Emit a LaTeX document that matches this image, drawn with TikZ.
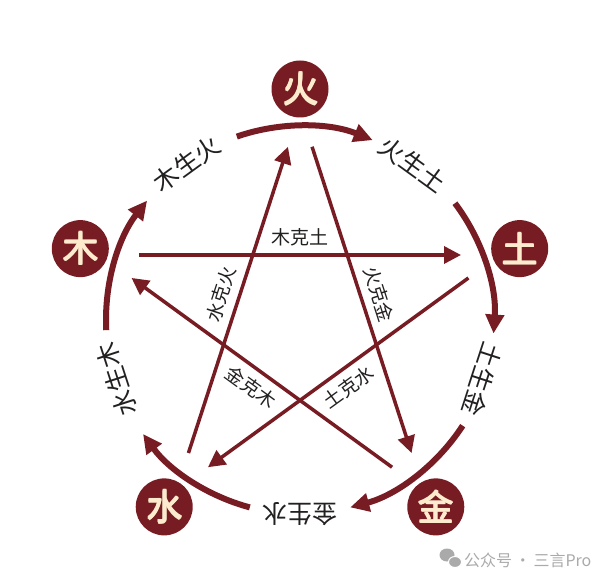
\documentclass[tikz,border=0pt]{standalone}
\usepackage{fontspec}
\newfontfamily\cjk{Noto Sans CJK SC}
\newcommand\heavyglyph[1]{\leavevmode\rlap{\kern1pt #1}\rlap{\raisebox{0.8pt}{#1}}\rlap{\kern1pt\raisebox{0.8pt}{#1}}\rlap{\kern0.5pt\raisebox{-0.4pt}{#1}}#1}
\usetikzlibrary{arrows.meta,calc}
\definecolor{wx}{RGB}{120,28,36}
\definecolor{cream}{RGB}{252,236,205}
\definecolor{ink}{RGB}{35,32,32}
\definecolor{wm}{RGB}{170,170,170}
\tikzset{
  elem/.style={circle, fill=wx, minimum size=57pt, inner sep=0pt, text=cream,
    font=\cjk\fontsize{36}{36}\selectfont},
  cyc/.style={draw=wx, line width=6pt, -{Triangle[length=19pt,width=18pt]}},
  ke/.style={draw=wx, line width=3.5pt, -{Triangle[length=17pt,width=17pt]}},
  cyclabel/.style={text=ink, inner sep=0pt, font=\cjk\fontsize{25}{25}\selectfont},
  kelabel/.style={text=ink, inner sep=0pt, font=\cjk\fontsize{19}{19}\selectfont},
  wmark/.style={text=wm, inner sep=0pt, font=\cjk\fontsize{16}{16}\selectfont}
}
\begin{document}
\begin{tikzpicture}[x=1pt,y=1pt]
\useasboundingbox (-300,-263) rectangle (309,320);
\fill[white] (-300,-263) rectangle (309,320);

% element nodes
\node[elem] (fire)  at (90:231)   {\heavyglyph{火}};
\node[elem] (earth) at (18:231)   {\heavyglyph{土}};
\node[elem] (metal) at (-54:231)  {\heavyglyph{金}};
\node[elem] (water) at (-126:231) {\heavyglyph{水}};
\node[elem] (wood)  at (162:231)  {\heavyglyph{木}};

% generating cycle arcs
\coordinate (a1s) at (109:194); \coordinate (a1e) at (68:194);
\coordinate (a2s) at (37:194);  \coordinate (a2e) at (-4:194);
\coordinate (a3s) at (-33:194); \coordinate (a3e) at (-75:194);
\coordinate (a4s) at (-105:194); \coordinate (a4e) at (-144:194);
\coordinate (a5s) at (183:194); \coordinate (a5e) at (142:194);
\draw[cyc] (a1s) arc[start angle=109, end angle=68, radius=194];
\draw[cyc] (a2s) arc[start angle=37, end angle=-4, radius=194];
\draw[cyc] (a3s) arc[start angle=-33, end angle=-75, radius=194];
\draw[cyc] (a4s) arc[start angle=-105, end angle=-144, radius=194];
\draw[cyc] (a5s) arc[start angle=183, end angle=142, radius=194];

% generating labels
\node[cyclabel, rotate=36]   (l1) at (126:193)  {木生火};
\node[cyclabel, rotate=-36]  (l2) at (54:192)   {火生土};
\node[cyclabel, rotate=-108] (l3) at (-18:192)  {土生金};
\node[cyclabel, rotate=180]  (l4) at (-90:194)  {金生水};
\node[cyclabel, rotate=108]  (l5) at (-162:193) {水生木};

% controlling star
\foreach \t/\n in {90/k1, 18/k2, -54/k3, -126/k4, 162/k5}{
  \coordinate (\n s) at ($(\t:65)+(\t+90:161)$);
  \coordinate (\n e) at ($(\t:65)+(\t-90:161)$);
}
\draw[ke] (k1s) -- (k1e);
\draw[ke] (k2s) -- (k2e);
\draw[ke] (k3s) -- (k3e);
\draw[ke] (k4s) -- (k4e);
\draw[ke] (k5s) -- (k5e);

\node[kelabel]            (m1) at (90:83)   {木克土};
\node[kelabel, rotate=-72] (m2) at (18:83)   {火克金};
\node[kelabel, rotate=36]  (m3) at (-54:83)  {土克水};
\node[kelabel, rotate=-36] (m4) at (-126:83) {金克木};
\node[kelabel, rotate=72]  (m5) at (162:83)  {水克火};

% watermark
\fill[wm] (147,-235) ellipse[x radius=7.5, y radius=6.5];
\fill[wm, draw=white, line width=1pt] (155,-242) ellipse[x radius=6.5, y radius=5.5];
\node[wmark, anchor=west] (wmk) at (164,-240) {公众号\,·\,三言Pro};
\end{tikzpicture}
\end{document}
